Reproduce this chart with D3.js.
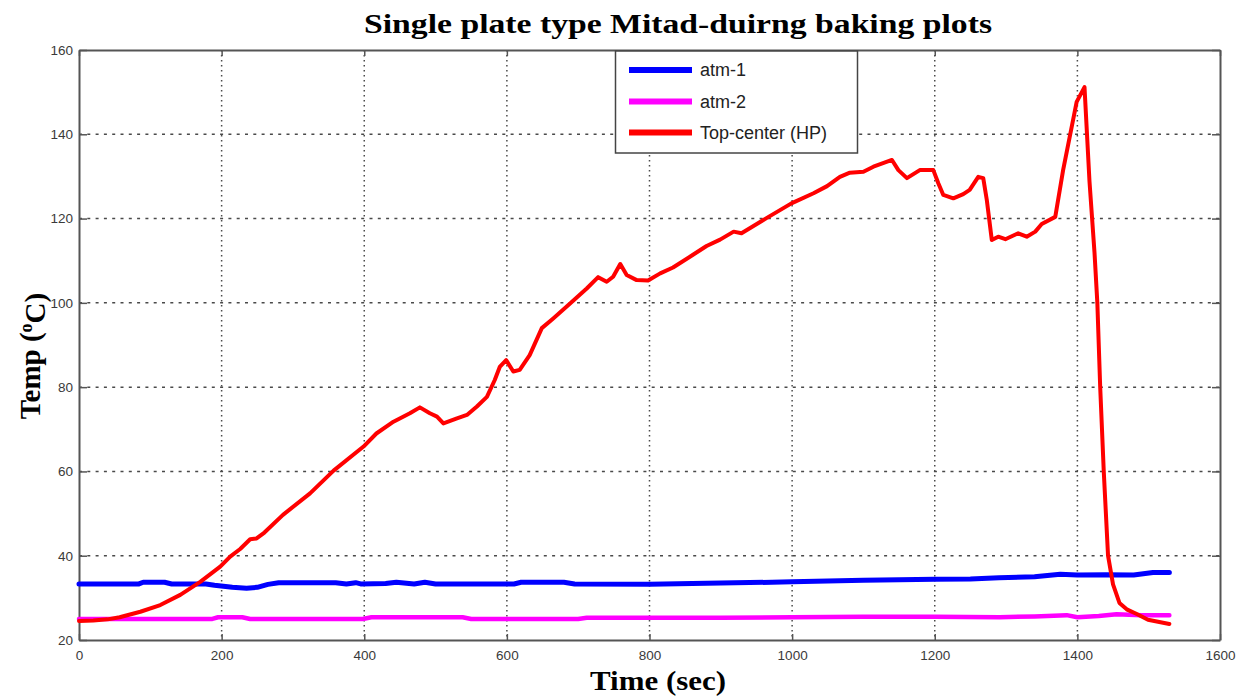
<!DOCTYPE html>
<html>
<head>
<meta charset="utf-8">
<script src="https://cdn.jsdelivr.net/npm/d3@7"></script>
<style>
  html, body { margin: 0; padding: 0; background: #fff; }
  svg { display: block; }
</style>
</head>
<body>
<svg id="chart" width="1242" height="698"></svg>
<script>
// ---------- DATA ----------
const chartTitle = "Single plate type Mitad-duirng baking plots";
const xLabel = "Time (sec)";
const seriesNames = ["atm-1", "atm-2", "Top-center (HP)"];
const xTicks = [0, 200, 400, 600, 800, 1000, 1200, 1400, 1600];
const yTicks = [20, 40, 60, 80, 100, 120, 140, 160];

// atm-1 (time in sec, temperature in °C)
const atm1Time = [0, 40, 84, 90, 120, 130, 178, 190, 215, 235, 250, 265, 280, 330, 360, 375, 388, 395, 430, 445, 470, 485, 500, 560, 610, 620, 680, 695, 800, 900, 1000, 1100, 1150, 1200, 1250, 1290, 1340, 1376, 1400, 1440, 1479, 1506, 1529];
const atm1Temp = [33.3, 33.3, 33.3, 33.7, 33.7, 33.3, 33.3, 33.0, 32.5, 32.3, 32.5, 33.2, 33.6, 33.6, 33.6, 33.3, 33.6, 33.3, 33.4, 33.7, 33.3, 33.7, 33.3, 33.3, 33.3, 33.7, 33.7, 33.3, 33.2, 33.5, 33.8, 34.2, 34.3, 34.4, 34.5, 34.8, 35.0, 35.6, 35.4, 35.5, 35.4, 36.0, 36.0];

// atm-2
const atm2Time = [0, 100, 187, 195, 229, 240, 398, 410, 538, 550, 700, 712, 800, 900, 1000, 1100, 1200, 1291, 1340, 1385, 1400, 1430, 1455, 1490, 1529];
const atm2Temp = [25.0, 25.0, 25.0, 25.4, 25.4, 25.0, 25.0, 25.4, 25.4, 25.0, 25.0, 25.3, 25.3, 25.3, 25.4, 25.5, 25.5, 25.4, 25.6, 25.9, 25.4, 25.7, 26.1, 25.9, 25.9];

// Top-center (HP)
const hpTime = [0, 20, 40, 57, 86, 114, 142, 170, 198, 212, 226, 240, 249, 260, 286, 324, 357, 399, 417, 441, 464, 478, 492, 502, 511, 530, 544, 558, 572, 583, 590, 599, 609, 618, 632, 649, 665, 689, 712, 728, 740, 749, 759, 768, 782, 798, 815, 833, 861, 880, 899, 918, 929, 964, 999, 1030, 1049, 1067, 1081, 1100, 1114, 1140, 1149, 1161, 1179, 1198, 1205, 1212, 1226, 1240, 1249, 1261, 1268, 1273, 1280, 1289, 1299, 1317, 1329, 1341, 1350, 1369, 1380, 1399, 1410, 1417, 1424, 1428, 1432, 1437, 1443, 1450, 1459, 1470, 1484, 1499, 1529];
const hpTemp = [24.5, 24.6, 24.9, 25.4, 26.7, 28.3, 30.7, 33.8, 37.4, 39.8, 41.6, 43.9, 44.1, 45.5, 49.7, 54.8, 60.2, 65.9, 69.0, 71.8, 73.8, 75.2, 73.8, 73.0, 71.4, 72.6, 73.4, 75.4, 77.7, 81.7, 84.8, 86.4, 83.7, 84.1, 87.6, 94.0, 96.3, 99.9, 103.4, 106.1, 105.0, 106.2, 109.2, 106.6, 105.4, 105.3, 107.0, 108.4, 111.4, 113.5, 115.0, 116.9, 116.5, 120.1, 123.6, 126.0, 127.7, 129.9, 130.9, 131.1, 132.3, 133.9, 131.5, 129.6, 131.5, 131.5, 128.4, 125.6, 124.8, 125.8, 126.8, 129.9, 129.6, 124.4, 114.9, 115.7, 115.1, 116.5, 115.7, 116.9, 118.7, 120.4, 131.5, 147.7, 151.2, 128.8, 112.0, 100, 80, 60, 40, 33.2, 28.8, 27.2, 26.1, 24.8, 23.8];

const seriesColors = ["#0000ff", "#ff00ff", "#ff0000"];

// ---------- LAYOUT ----------
const svg = d3.select("#chart");
const pLeft = 79, pRight = 1220, pTop = 50, pBottom = 640;

const x = d3.scaleLinear().domain([0, 1600]).range([pLeft, pRight]);
const y = d3.scaleLinear().domain([20, 160]).range([pBottom, pTop]);

svg.append("rect").attr("width", 1242).attr("height", 698).attr("fill", "#fff");

// grid
const gridColor = "#4a4a4a";
svg.append("g").selectAll("line").data(xTicks.filter(d => d > 0 && d < 1600)).join("line")
  .attr("x1", d => x(d)).attr("x2", d => x(d)).attr("y1", pTop).attr("y2", pBottom)
  .attr("stroke", gridColor).attr("stroke-width", 1.5).attr("stroke-dasharray", "1.6,3.4");
svg.append("g").selectAll("line").data(yTicks.filter(d => d > 20 && d < 160)).join("line")
  .attr("y1", d => y(d)).attr("y2", d => y(d)).attr("x1", pLeft).attr("x2", pRight)
  .attr("stroke", gridColor).attr("stroke-width", 1.5).attr("stroke-dasharray", "3,5.3");

// axes (ticks inside)
const axisColor = "#555";
const fmt = d3.format("d");
const xAxis = d3.axisBottom(x).tickValues(xTicks).tickFormat(fmt).tickSizeInner(-6).tickSizeOuter(0).tickPadding(10);
const yAxis = d3.axisLeft(y).tickValues(yTicks).tickFormat(fmt).tickSizeInner(-8).tickSizeOuter(0).tickPadding(6);
const xTopAxis = d3.axisTop(x).tickValues(xTicks).tickSizeInner(-6).tickSizeOuter(0).tickFormat("");
const yRightAxis = d3.axisRight(y).tickValues(yTicks).tickSizeInner(-8).tickSizeOuter(0).tickFormat("");

function styleAxis(g) {
  g.select(".domain").attr("stroke", axisColor).attr("stroke-width", 2);
  g.selectAll(".tick line").attr("stroke", axisColor).attr("stroke-width", 1.5);
  g.selectAll(".tick text").attr("fill", "#3a3a3a")
    .style("font-family", "'Liberation Sans', Arial, sans-serif").style("font-size", "13.5px");
}
svg.append("g").attr("transform", `translate(0,${pBottom})`).call(xAxis).call(styleAxis);
svg.append("g").attr("transform", `translate(${pLeft},0)`).call(yAxis).call(styleAxis);
svg.append("g").attr("transform", `translate(0,${pTop})`).call(xTopAxis).call(styleAxis);
svg.append("g").attr("transform", `translate(${pRight},0)`).call(yRightAxis).call(styleAxis);

// series
const line = d3.line().x(d => x(d[0])).y(d => y(d[1])).curve(d3.curveLinear);
const series = [
  { t: atm1Time, v: atm1Temp, w: 5 },
  { t: atm2Time, v: atm2Temp, w: 4.5 },
  { t: hpTime, v: hpTemp, w: 4 }
];
series.forEach((s, i) => {
  const pts = s.t.map((t, k) => [t, s.v[k]]);
  svg.append("path").datum(pts).attr("d", line)
    .attr("fill", "none").attr("stroke", seriesColors[i]).attr("stroke-width", s.w)
    .attr("stroke-linejoin", "round").attr("stroke-linecap", "round");
});

// legend
const lg = svg.append("g");
lg.append("rect").attr("x", 615.5).attr("y", 51).attr("width", 242).attr("height", 102)
  .attr("fill", "#fff").attr("stroke", "#444").attr("stroke-width", 1.5);
const legendY = [70, 101.5, 132.5];
seriesNames.forEach((name, i) => {
  lg.append("line").attr("x1", 629).attr("x2", 692).attr("y1", legendY[i]).attr("y2", legendY[i])
    .attr("stroke", seriesColors[i]).attr("stroke-width", 6);
  lg.append("text").attr("x", 700).attr("y", legendY[i]).attr("dy", "0.36em")
    .attr("fill", "#222").style("font-family", "'Liberation Sans', Arial, sans-serif")
    .style("font-size", "18px").text(name);
});

// title & labels
const serif = "'Liberation Serif', 'Times New Roman', serif";
svg.append("text").attr("x", 678).attr("y", 33).attr("text-anchor", "middle")
  .attr("textLength", 628).attr("lengthAdjust", "spacingAndGlyphs")
  .style("font-family", serif).style("font-weight", "bold").style("font-size", "28px")
  .attr("fill", "#000").text(chartTitle);

svg.append("text").attr("x", 658).attr("y", 690).attr("text-anchor", "middle")
  .attr("textLength", 136).attr("lengthAdjust", "spacingAndGlyphs")
  .style("font-family", serif).style("font-weight", "bold").style("font-size", "27px")
  .attr("fill", "#000").text(xLabel);

const yl = svg.append("text").attr("transform", "translate(40,356) rotate(-90)")
  .attr("text-anchor", "middle")
  .style("font-family", serif).style("font-weight", "bold").style("font-size", "29px")
  .attr("fill", "#000");
yl.append("tspan").text("Temp (");
yl.append("tspan").attr("dy", "-0.45em").style("font-size", "18px").text("o");
yl.append("tspan").attr("dy", "0.45em").text("C)");
</script>
</body>
</html>
